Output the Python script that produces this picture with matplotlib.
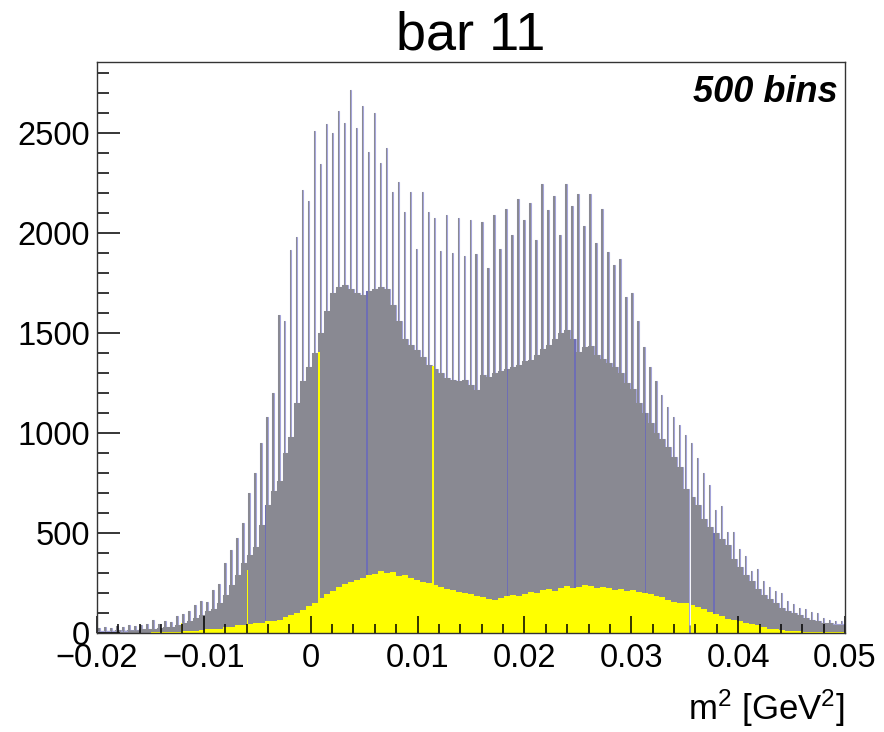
import numpy as np
import matplotlib
matplotlib.use("Agg")
import matplotlib.pyplot as plt
from matplotlib.ticker import MultipleLocator, FuncFormatter

plt.rcParams["font.family"] = ["Liberation Sans", "DejaVu Sans"]
plt.rcParams["mathtext.fontset"] = "custom"
plt.rcParams["mathtext.rm"] = "Liberation Sans"
plt.rcParams["mathtext.it"] = "Liberation Sans:italic"

# 500 bins over [-0.02, 0.05]; the counts come in groups of 4 bins:
# one tall "spike" bin and three lower bins (binning aliasing of the data)
X_MIN, X_MAX, N_BINS = -0.02, 0.05, 500
BINS_PER_GROUP = 4

spike_counts = [
    25, 30, 25, 35, 30, 40, 35, 40, 45, 65,
    45, 60, 55, 85, 95, 110, 140, 160, 155, 215,
    245, 350, 415, 475, 550, 700, 800, 950, 1080, 1200,
    1590, 1560, 1915, 1980, 2215, 2160, 2510, 2345, 2545, 2500,
    2610, 2550, 2715, 2525, 2635, 2405, 2600, 2350, 2425, 2205,
    2255, 2105, 2205, 1920, 2205, 2105, 2075, 1910, 2090, 1900,
    2075, 1885, 2065, 1895, 2055, 1825, 2090, 1920, 2120, 1990,
    2170, 2065, 2150, 1965, 2245, 2115, 2185, 1990, 2245, 2135,
    2195, 2035, 2195, 1950, 2120, 1905, 1840, 1870, 1680, 1700,
    1560, 1430, 1330, 1260, 1190, 1130, 1080, 1040, 990, 950,
    875, 800, 740, 615, 635, 505, 505, 420, 385, 310,
    320, 260, 230, 210, 200, 160, 145, 125, 120, 105,
    100, 75, 65, 60, 60,
]

base_counts = [
    10, 12, 10, 15, 12, 15, 15, 18, 20, 22,
    25, 28, 32, 40, 50, 60, 75, 90, 110, 120,
    150, 190, 240, 290, 350, 390, 430, 540, 640, 710,
    760, 900, 980, 1150, 1260, 1330, 1400, 1500, 1610, 1700,
    1730, 1740, 1720, 1700, 1690, 1710, 1720, 1730, 1720, 1640,
    1560, 1470, 1440, 1415, 1380, 1340, 1320, 1300, 1275, 1265,
    1260, 1265, 1240, 1215, 1290, 1280, 1300, 1310, 1320, 1330,
    1340, 1360, 1365, 1390, 1420, 1440, 1470, 1500, 1515, 1470,
    1405, 1430, 1435, 1390, 1370, 1350, 1330, 1300, 1250, 1220,
    1150, 1100, 1050, 1000, 970, 930, 880, 830, 720, 680,
    640, 570, 530, 500, 470, 440, 370, 330, 290, 260,
    220, 190, 170, 150, 125, 110, 100, 90, 75, 65,
    60, 52, 50, 45, 45,
]

yellow_counts = [
    0, 0, 1, 0, 1, 1, 2, 1, 2, 3,
    3, 4, 5, 6, 8, 10, 12, 15, 18, 20,
    22, 28, 32, 38, 42, 45, 50, 52, 58, 62,
    65, 80, 90, 100, 115, 135, 150, 175, 195, 210,
    230, 245, 255, 265, 275, 290, 295, 310, 300, 305,
    285, 290, 275, 265, 255, 250, 240, 230, 220, 215,
    205, 200, 195, 185, 180, 170, 165, 175, 185, 190,
    185, 195, 205, 200, 215, 220, 210, 225, 235, 225,
    230, 240, 235, 225, 230, 225, 215, 220, 210, 215,
    205, 200, 195, 185, 180, 165, 155, 150, 148, 140,
    130, 118, 105, 95, 85, 72, 65, 58, 52, 45,
    38, 30, 22, 18, 15, 12, 10, 8, 7, 6,
    5, 5, 4, 3, 3,
]

# single bins that stand out
outline_bins = [112, 180, 274, 319, 366, 412]    # drawn as dark blue lines
hole_bins = [396]                                # both histograms empty
yellow_spike_bins = [56, 100, 148, 224]
yellow_spike_counts = [50, 315, 1405, 1335]

edges = np.linspace(X_MIN, X_MAX, N_BINS + 1)
widths = np.diff(edges)

gray = np.repeat(base_counts, BINS_PER_GROUP).astype(float)
gray[1::BINS_PER_GROUP] = spike_counts
gray[hole_bins] = 0

yellow = np.repeat(yellow_counts, BINS_PER_GROUP).astype(float)
yellow[yellow_spike_bins] = yellow_spike_counts
yellow[hole_bins] = 0

fig = plt.figure(figsize=(8.84, 7.32), dpi=100)
ax = fig.add_axes([97 / 884, 99 / 732, 748 / 884, 571 / 732])

ax.stairs(gray, edges, fill=True, color="#898992", zorder=1)
ax.stairs(gray, edges, color="#a4a4da", linewidth=0.8, zorder=1.1)
ax.stairs(gray, edges, fill=True, color="#898992", zorder=1.15,
          baseline=None, linewidth=0)
ax.bar(edges[outline_bins], gray[outline_bins], width=widths[outline_bins],
       align="edge", color="#6e6eb4", linewidth=0, zorder=1.2)
ax.stairs(yellow, edges, fill=True, color="#ffff00", zorder=1.5)

ax.set_xlim(X_MIN, X_MAX)
ax.set_ylim(0, 2855)

ax.xaxis.set_major_locator(MultipleLocator(0.01))
ax.xaxis.set_minor_locator(MultipleLocator(0.002))
ax.yaxis.set_major_locator(MultipleLocator(500))
ax.yaxis.set_minor_locator(MultipleLocator(100))
ax.xaxis.set_major_formatter(FuncFormatter(
    lambda v, _: f"{v:g}".replace("-", "\u2212") if abs(v) > 1e-9 else "0"))

ax.tick_params(which="both", direction="in", top=False, right=False,
               width=1.1, colors="black", labelsize=23.5)
ax.tick_params(axis="x", which="major", length=12.5, pad=7)
ax.tick_params(axis="x", which="minor", length=6.2)
ax.tick_params(axis="y", which="major", length=16.5, pad=5)
ax.tick_params(axis="y", which="minor", length=8.3)
ax.set_axisbelow(False)
for spine in ax.spines.values():
    spine.set_linewidth(1.0)
    spine.set_color("#333333")
    spine.set_zorder(3)

ax.text(1.0, -0.131, r"m$^{2}$ [GeV$^{2}$]", transform=ax.transAxes,
        ha="right", va="center", fontsize=25)
ax.text((838 - 97) / 748, (633 - 93) / 571, "500 bins", transform=ax.transAxes,
        ha="right", va="center", fontsize=26, fontweight="bold", fontstyle="italic")
fig.text(471 / 884, 1 - 35 / 732, "bar 11", ha="center", va="center", fontsize=39)

fig.savefig("out.png", dpi=100)
